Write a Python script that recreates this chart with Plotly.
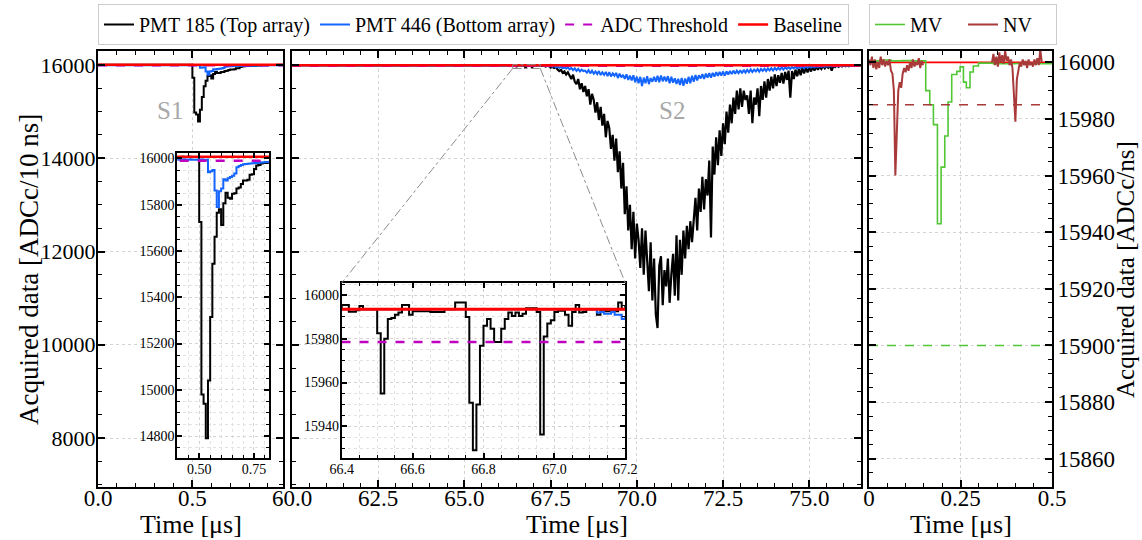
import numpy as np
import plotly.graph_objects as go

W, H = 1142, 540
FONT = "Liberation Serif"

# ---------------- data ----------------
# S1 window (left panel), 10 ns sampling
s1_time = np.round(np.arange(0, 99) * 0.01, 2)
s1_pmt185 = [16006, 16005, 16007, 16006, 16005, 16006, 16007, 16006, 16005, 16006,
             16007, 16006, 16005, 16006, 16007, 16005, 16006, 16006, 16007, 16005,
             16006, 16007, 16005, 16006, 16006, 16007, 16005, 16006, 16006, 16005,
             16007, 16006, 16005, 16006, 16007, 16006, 16005, 16006, 16007, 16005,
             16006, 16006, 16007, 16005, 16006, 16007, 16005, 16006, 16006, 16006,
             15725, 14980, 14940, 14790, 15040, 15315, 15545, 15662, 15765, 15780,
             15712, 15806, 15852, 15830, 15826, 15848, 15850, 15870, 15875, 15890,
             15905, 15905, 15908, 15930, 15932, 15955, 15970, 15972, 15978, 15980,
             15981, 15982, 15984, 15986, 15988, 15990, 15992, 15994, 15995, 15997,
             15998, 15999, 16000, 16001, 16002, 16003, 16003, 16004, 16004]
s1_pmt446 = [15995, 15994, 15996, 15995, 15994, 15995, 15996, 15995, 15994, 15995,
             15996, 15995, 15994, 15995, 15996, 15994, 15995, 15995, 15996, 15994,
             15995, 15996, 15994, 15995, 15995, 15996, 15994, 15995, 15995, 15994,
             15996, 15995, 15994, 15995, 15996, 15995, 15994, 15995, 15996, 15994,
             15995, 15995, 15996, 15994, 15995, 15996, 15994, 15995, 15995, 15995,
             15995, 15996, 15994, 15995, 15940, 15945, 15950, 15862, 15790, 15858,
             15870, 15910, 15905, 15915, 15920, 15925, 15935, 15962, 15968, 15972,
             15975, 15976, 15977, 15978, 15979, 15980, 15981, 15982, 15983, 15984,
             15985, 15985, 15986, 15987, 15988, 15988, 15989, 15990, 15990, 15991,
             15992, 15992, 15993, 15993, 15994, 15994, 15995, 15995, 15995]
s1_baseline = 16007
s1_threshold = 15990

# S2 window (middle panel)
s2_time = np.round(np.concatenate([60.0 + 0.1 * np.arange(64),
                                   66.40 + 0.01 * np.arange(80),
                                   67.20 + 0.05 * np.arange(187)]), 3)
s2_pmt185 = [
    # 60.0 - 66.3 (0.1 us)
    15994, 15993, 15995, 15992, 15994, 15993, 15996, 15993, 15992, 15994,
    15993, 15995, 15992, 15994, 15993, 15994, 15991, 15995, 15993, 15994,
    15992, 15994, 15996, 15993, 15994, 15992, 15993, 15995, 15993, 15994,
    15993, 15991, 15994, 15995, 15993, 15994, 15992, 15993, 15995, 15994,
    15993, 15994, 15992, 15996, 15993, 15994, 15993, 15992, 15994, 15995,
    15993, 15994, 15993, 15991, 15994, 15993, 15995, 15994, 15993, 15992,
    15994, 15993, 15995, 15994,
    # 66.40 - 67.19 (10 ns)
    15995.4, 15995.4, 15992.4, 15992.4, 15993.0, 15995.0, 15993.5, 15993.5, 15993.5, 15993.5,
    15982.5, 15955.0, 15980.0, 15989.0, 15989.5, 15991.0, 15992.0, 15995.5, 15995.5, 15991.0,
    15992.6, 15992.6, 15992.6, 15992.6, 15992.6, 15992.3, 15992.3, 15992.3, 15992.3, 15993.5,
    15993.5, 15993.5, 15996.6, 15996.6, 15996.6, 15990.0, 15950.8, 15929.0, 15950.0, 15976.8,
    15986.0, 15989.0, 15984.6, 15978.5, 15978.5, 15984.6, 15989.0, 15992.0, 15990.4, 15992.0,
    15990.4, 15991.5, 15994.0, 15994.0, 15994.0, 15992.3, 15936.2, 15981.0, 15987.0, 15988.5,
    15992.3, 15992.8, 15992.8, 15991.0, 15986.0, 15992.3, 15995.5, 15992.0, 15992.3, 15993.5,
    15993.5, 15993.5, 15991.0, 15992.6, 15992.6, 15992.6, 15992.6, 15992.6, 15996.6, 15993.5,
    # 67.20 - 76.50 (0.05 us)
    15995, 15982, 15991, 15968, 15978, 15990, 15945, 15962, 15935, 15958,
    15905, 15870, 15895, 15830, 15860, 15795, 15845, 15760, 15700, 15790,
    15640, 15590, 15700, 15480, 15610, 15420, 15550, 15330, 15480, 15150,
    15380, 15250, 14980, 15200, 14820, 15100, 14700, 14950, 14450, 14800,
    14650, 14200, 14500, 13950, 14420, 13700, 14150, 13350, 13900, 12800,
    13400, 12450, 13000, 12050, 12850, 11850, 12600, 12250, 11650, 12500,
    11500, 12450, 11900, 11150, 12200, 10950, 11850, 10650, 10360, 11700,
    11900, 10850, 11600, 11250, 11850, 10900, 11500, 11950, 11050, 12350,
    10950, 12250, 11500, 12450, 11850, 12550, 12050, 12650, 12200, 12750,
    13150, 12450, 13350, 12850, 13600, 12900, 13550, 13200, 13950, 12300,
    14250, 13650, 14450, 13850, 14600, 14050, 14750, 14300, 15000, 14550,
    15150, 14750, 15300, 14950, 15450, 15050, 15500, 15100, 15450, 15250,
    15350, 14950, 15450, 14750, 15300, 15150, 15500, 14900, 15550, 15250,
    15650, 15300, 15700, 15450, 15750, 15500, 15800, 15550, 15780, 15620,
    15830, 15600, 15850, 15680, 15880, 15300, 15870, 15700, 15900, 15760,
    15920, 15780, 15940, 15820, 15950, 15840, 15960, 15860, 15970, 15880,
    15975, 15900, 15970, 15915, 15980, 15930, 15985, 15940, 15988, 15880,
    15988, 15955, 15992, 15960, 15990, 15968, 15993, 15975, 15994, 15972,
    15992, 15980, 15994, 15982, 15993, 15988, 15994]

s2b_time = np.round(np.concatenate([[60.0],
                                    67.10 + 0.01 * np.arange(10),
                                    67.20 + 0.05 * np.arange(187)]), 3)
s2_pmt446 = [
    15993.5,
    15993.5, 15993.5, 15992.0, 15992.3, 15991.5, 15991.5, 15992.3, 15991.0, 15991.0, 15989.0,
    15990, 15984, 15989, 15976, 15986, 15968, 15982, 15962, 15978, 15950,
    15972, 15940, 15963, 15930, 15950, 15925, 15948, 15905, 15938, 15890,
    15928, 15875, 15915, 15862, 15900, 15870, 15880, 15835, 15890, 15820,
    15880, 15815, 15860, 15805, 15870, 15785, 15845, 15790, 15850, 15760,
    15845, 15755, 15820, 15770, 15830, 15720, 15815, 15735, 15790, 15700,
    15800, 15680, 15770, 15670, 15780, 15630, 15750, 15610, 15745, 15550,
    15730, 15610, 15760, 15590, 15720, 15640, 15745, 15640, 15770, 15630,
    15775, 15650, 15750, 15650, 15760, 15610, 15745, 15620, 15715, 15595,
    15705, 15570, 15720, 15555, 15710, 15600, 15745, 15610, 15770, 15640,
    15785, 15670, 15780, 15710, 15805, 15700, 15815, 15730, 15825, 15730,
    15830, 15750, 15845, 15765, 15850, 15775, 15860, 15770, 15865, 15795,
    15870, 15805, 15880, 15810, 15878, 15825, 15888, 15820, 15895, 15835,
    15895, 15845, 15905, 15850, 15900, 15860, 15912, 15858, 15915, 15872,
    15922, 15870, 15928, 15885, 15930, 15880, 15938, 15895, 15940, 15900,
    15948, 15902, 15950, 15915, 15952, 15912, 15958, 15925, 15960, 15922,
    15962, 15935, 15966, 15930, 15968, 15942, 15970, 15945, 15972, 15952,
    15975, 15955, 15977, 15960, 15978, 15958, 15981, 15966, 15982, 15968,
    15984, 15972, 15985, 15970, 15987, 15976, 15988, 15978, 15989, 15980,
    15990, 15983, 15991, 15985, 15992, 15987, 15992]
s2_baseline = 15993.5
s2_threshold = 15978.5

# Veto window (right panel)
mv_time = [0.000, 0.030, 0.060, 0.090, 0.120, 0.155, 0.166, 0.176, 0.187, 0.197,
           0.207, 0.216, 0.226, 0.240, 0.249, 0.258, 0.266, 0.276, 0.285, 0.299,
           0.340, 0.400, 0.450, 0.500]
mv_adc = [16000.5, 16000.8, 16000.5, 16000.6, 16000.5, 15990.0, 15985.0, 15978.0, 15943.0, 15963.0,
          15974.0, 15986.0, 15995.7, 15996.8, 15998.4, 15993.0, 15991.0, 15996.6, 15998.7, 15999.7,
          15999.5, 15999.6, 15999.5, 15999.4]
nv_time = [0.000, 0.004, 0.008, 0.012, 0.016, 0.020, 0.024, 0.028, 0.032, 0.036,
           0.040, 0.044, 0.048, 0.052, 0.056, 0.060, 0.064, 0.068, 0.072, 0.076,
           0.080, 0.084, 0.088, 0.092, 0.096, 0.100, 0.104, 0.108, 0.112, 0.116,
           0.120, 0.124, 0.128, 0.132, 0.136, 0.140, 0.144, 0.148,
           None,
           0.336, 0.340, 0.344, 0.348, 0.352, 0.356, 0.360, 0.364, 0.368, 0.372,
           0.376, 0.380, 0.384, 0.388, 0.392, 0.396, 0.400, 0.404, 0.408, 0.412,
           0.416, 0.420, 0.424, 0.428, 0.432, 0.436, 0.440, 0.444, 0.448, 0.452,
           0.456, 0.460, 0.464, 0.468, 0.472]
nv_adc = [16001.0, 15999.0, 16002.0, 15998.0, 16001.0, 15997.5, 16000.0, 15998.0, 16002.0, 15999.0,
          16001.0, 15998.5, 16000.5, 15999.0, 16001.0, 15997.0, 15996.0, 15990.0, 15960.0, 15975.0,
          15990.0, 15993.0, 15991.0, 15996.0, 15998.0, 15996.5, 15999.0, 15997.0, 16000.0, 15998.0,
          16001.0, 15998.5, 16000.0, 15999.0, 16001.5, 15998.0, 16000.5, 15999.0,
          None,
          16000.0, 16003.0, 15999.0, 16002.0, 15998.5, 16003.5, 16000.0, 16002.5, 15999.5, 16004.0,
          16000.5, 16002.0, 15999.0, 16001.0, 15998.0, 15990.0, 15979.0, 15994.0, 15998.0, 16000.0,
          15998.5, 16001.0, 15999.0, 16000.5, 15998.0, 16001.0, 15999.0, 16000.0, 15998.5, 16001.0,
          15999.0, 16001.5, 15999.0, 16004.5, 16000.0]
veto_baseline = 16000
mv_threshold = 15900
nv_threshold = 15985

# ---------------- layout geometry ----------------
def fx(p):
    return p / W


def fy(p):
    return 1 - p / H


Y_DOM = [fy(487), fy(51)]
X1_DOM = [fx(98), fx(283)]
X2_DOM = [fx(292), fx(861)]
X3_DOM = [fx(869), fx(1052)]
IN1_X = [fx(177.3), fx(269.3)]
IN1_Y = [fy(458), fy(152.7)]
IN2_X = [fx(341.7), fx(625.3)]
IN2_Y = [fy(458), fy(283)]

R1X = [0, 0.98]
RY = [6950, 16300]
R2X = [60, 76.5]
R3X = [0, 0.5]
R3Y = [15850, 16004]
IN1_RX = [0.4, 0.82]
IN1_RY = [14705, 16025]
IN2_RX = [66.4, 67.2]
IN2_RY = [15925.5, 16005.5]

BLACK = "#000000"
BLUE = "#1464ff"
PURPLE = "#bf00bf"
RED = "#ff0000"
GREEN = "#52c634"
BROWN = "#a83a3a"

fig = go.Figure()


def step(x, y, xa, ya, color, width, name=None, legend=None, show=False, dash=None, shape="hv"):
    fig.add_trace(go.Scatter(
        x=x, y=y, mode="lines", xaxis=xa, yaxis=ya,
        line=dict(color=color, width=width, shape=shape, dash=dash),
        name=name, showlegend=show, legend=legend, connectgaps=False,
        hoverinfo="skip"))


def hline(xr, val, xa, ya, color, width, dash=None, name=None, show=False, legend=None):
    step([xr[0], xr[1]], [val, val], xa, ya, color, width, name=name, show=show,
         legend=legend, dash=dash, shape="linear")


# left main
step(s1_time, s1_pmt185, "x", "y", BLACK, 2, "PMT 185 (Top array)", "legend", True)
step(s1_time, s1_pmt446, "x", "y", BLUE, 2, "PMT 446 (Bottom array)", "legend", True)
hline(R1X, s1_threshold, "x", "y", PURPLE, 2, "dash", "ADC Threshold", True, "legend")
hline(R1X, s1_baseline, "x", "y", RED, 2.5, None, "Baseline", True, "legend")
# middle main
step(s2_time, s2_pmt185, "x2", "y2", BLACK, 2.2, shape="linear")
step(s2b_time, s2_pmt446, "x2", "y2", BLUE, 2, shape="linear")
hline(R2X, s2_threshold, "x2", "y2", PURPLE, 2, "dash")
hline(R2X, s2_baseline, "x2", "y2", RED, 2.5)
# right main
hline(R3X, veto_baseline, "x3", "y3", RED, 1.8)
step(mv_time, mv_adc, "x3", "y3", GREEN, 1.6, "MV", "legend2", True)
step(nv_time, nv_adc, "x3", "y3", BROWN, 2, "NV", "legend2", True, shape="linear")
hline(R3X, nv_threshold, "x3", "y3", BROWN, 1.6, "dash")
hline(R3X, mv_threshold, "x3", "y3", GREEN, 1.6, "dash")
# inset S1
step(s1_time, s1_pmt185, "x4", "y4", BLACK, 2)
step(s1_time, s1_pmt446, "x4", "y4", BLUE, 2)
hline(R1X, s1_threshold, "x4", "y4", PURPLE, 2.5, "dash")
hline(R1X, s1_baseline, "x4", "y4", RED, 2.5)
# inset S2
step(s2_time, s2_pmt185, "x5", "y5", BLACK, 2)
step(s2b_time, s2_pmt446, "x5", "y5", BLUE, 2)
hline(R2X, s2_threshold, "x5", "y5", PURPLE, 2.5, "dash")
hline(R2X, s2_baseline, "x5", "y5", RED, 3)


def axis(domain, rng, anchor, dtick, tick0, mdtick, fs, labels=True, fmt="",
         ticklen=7, mticklen=4, mgrid=False, side=None, lw=2, standoff=0):
    d = dict(domain=domain, range=rng, anchor=anchor, showline=True, linecolor="black",
             linewidth=lw, mirror="allticks", ticks="inside", ticklen=ticklen,
             tickwidth=1.5, tickcolor="black", tickmode="linear", dtick=dtick, tick0=tick0,
             tickformat=fmt, showticklabels=labels, ticklabelstandoff=standoff,
             tickfont=dict(family=FONT, size=fs, color="black"),
             showgrid=True, gridcolor="#d3d3d3", griddash="3px,3px", gridwidth=1,
             zeroline=False, automargin=False, fixedrange=True,
             minor=dict(ticks="inside", ticklen=mticklen, tickwidth=1, tickcolor="black",
                        tickmode="linear", dtick=mdtick, tick0=tick0, showgrid=mgrid,
                        gridcolor="#e2e2e2", griddash="3px,3px", gridwidth=1))
    if side:
        d["side"] = side
    return d


fig.update_layout(
    width=W, height=H,
    margin=dict(l=0, r=0, t=0, b=0),
    paper_bgcolor="white", plot_bgcolor="white",
    font=dict(family=FONT, color="black"),
    xaxis=axis(X1_DOM, R1X, "y", 0.5, 0, 0.1, 23, fmt=".1f", standoff=-11),
    yaxis=axis(Y_DOM, RY, "x", 2000, 8000, 500, 22, fmt="d", standoff=-4),
    xaxis2=axis(X2_DOM, R2X, "y2", 2.5, 60, 0.5, 23, fmt=".1f", standoff=-11),
    yaxis2=axis(Y_DOM, RY, "x2", 2000, 8000, 500, 22, labels=False),
    xaxis3=axis(X3_DOM, R3X, "y3", 0.25, 0, 0.05, 23, standoff=-11),
    yaxis3=axis(Y_DOM, R3Y, "x3", 20, 15860, 5, 23, fmt="d", side="right", standoff=-1),
    xaxis4=axis(IN1_X, IN1_RX, "y4", 0.25, 0.5, 0.05, 14, fmt=".2f", ticklen=5, mticklen=3, mgrid=True, standoff=-3),
    yaxis4=axis(IN1_Y, IN1_RY, "x4", 200, 14800, 50, 14, fmt="d", ticklen=5, mticklen=3, mgrid=True, standoff=-2),
    xaxis5=axis(IN2_X, [66.3999, 67.2001], "y5", 0.2, 66.4, 0.05, 14, fmt=".1f", ticklen=5, mticklen=3, mgrid=True, standoff=-3),
    yaxis5=axis(IN2_Y, IN2_RY, "x5", 20, 15940, 5, 14, fmt="d", ticklen=5, mticklen=3, mgrid=True, standoff=-2),
    legend=dict(x=fx(98), y=fy(4), xanchor="left", yanchor="top", orientation="h",
                font=dict(family=FONT, size=20, color="black"), bgcolor="white",
                bordercolor="#cccccc", borderwidth=1, itemwidth=30),
    legend2=dict(x=fx(869), y=fy(4), xanchor="left", yanchor="top", orientation="h",
                 font=dict(family=FONT, size=20, color="black"), bgcolor="white",
                 bordercolor="#cccccc", borderwidth=1, itemwidth=30, entrywidth=48),
)

# text labels
ann = [
    dict(text="S1", x=fx(170), y=fy(110), font=dict(size=25, color="#a8a8a8")),
    dict(text="S2", x=fx(672), y=fy(110), font=dict(size=25, color="#a8a8a8")),
    dict(text="Time [μs]", x=fx(190.5), y=fy(524), font=dict(size=26)),
    dict(text="Time [μs]", x=fx(576.5), y=fy(524), font=dict(size=26)),
    dict(text="Time [μs]", x=fx(960.5), y=fy(524), font=dict(size=26)),
    dict(text="Acquired data [ADCc/10 ns]", x=fx(29), y=fy(270), textangle=-90, font=dict(size=27)),
    dict(text="Acquired data [ADCc/ns]", x=fx(1125), y=fy(270), textangle=-90, font=dict(size=25)),
]
for a in ann:
    a.update(xref="paper", yref="paper", showarrow=False, xanchor="center", yanchor="middle")
    a["font"].update(family=FONT)
    a["font"].setdefault("color", "black")
    fig.add_annotation(**a)

# inset marker (rectangle + connectors), in middle-panel data coordinates
def to_x2(fxv):
    return R2X[0] + (fxv - X2_DOM[0]) / (X2_DOM[1] - X2_DOM[0]) * (R2X[1] - R2X[0])


def to_y2(fyv):
    return RY[0] + (fyv - Y_DOM[0]) / (Y_DOM[1] - Y_DOM[0]) * (RY[1] - RY[0])


mk = dict(color="#8c8c8c", width=1, dash="dashdot")
fig.add_shape(type="rect", xref="x2", yref="y2", x0=IN2_RX[0], x1=IN2_RX[1],
              y0=IN2_RY[0], y1=IN2_RY[1], line=mk)
fig.add_shape(type="line", xref="x2", yref="y2", x0=IN2_RX[0], y0=IN2_RY[0],
              x1=to_x2(IN2_X[0]), y1=to_y2(IN2_Y[1]), line=mk)
fig.add_shape(type="line", xref="x2", yref="y2", x0=IN2_RX[1], y0=IN2_RY[0],
              x1=to_x2(IN2_X[1]), y1=to_y2(IN2_Y[1]), line=mk)

fig.write_html("out.html", config={"displayModeBar": False},
               post_script="document.body.style.margin='0px';")
